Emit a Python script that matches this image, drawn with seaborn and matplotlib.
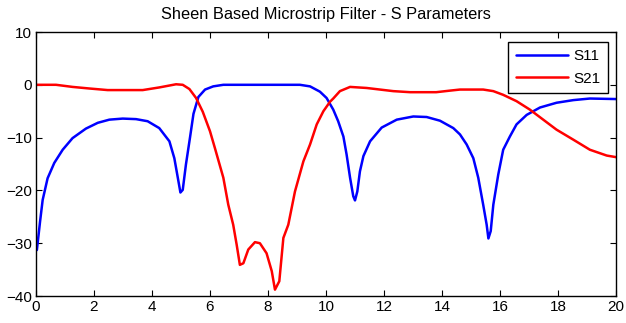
import numpy as np
import pandas as pd
import matplotlib
matplotlib.use("Agg")
import matplotlib.pyplot as plt
import seaborn as sns

title = "Sheen Based Microstrip Filter - S Parameters"
series_names = ["S11", "S21"]

x_s11 = [0.03, 0.14, 0.23, 0.40, 0.63, 0.92, 1.26, 1.72, 2.13, 2.53, 2.99, 3.45,
         3.85, 4.25, 4.6, 4.77, 4.89, 4.98, 5.06, 5.17, 5.31, 5.43, 5.6, 5.83,
         6.11, 6.46, 9.1, 9.45, 9.79, 10.02, 10.25, 10.42, 10.6, 10.71, 10.83,
         10.94, 11.0, 11.08, 11.17, 11.29, 11.52, 11.92, 12.44, 13.01, 13.47,
         13.93, 14.39, 14.62, 14.85, 15.08, 15.25, 15.42, 15.54, 15.6, 15.68,
         15.77, 15.94, 16.11, 16.34, 16.57, 16.92, 17.38, 17.95, 18.53, 19.1, 20.0]
y_s11 = [-31.3, -25.9, -21.8, -17.7, -14.8, -12.3, -10.1, -8.3, -7.2, -6.6, -6.4,
         -6.5, -6.9, -8.2, -10.7, -13.9, -17.6, -20.4, -19.9, -15.1, -10.0, -5.5,
         -2.3, -0.9, -0.3, 0.0, 0.0, -0.3, -1.3, -2.5, -4.7, -6.9, -9.8, -13.2,
         -17.6, -21.1, -21.9, -20.2, -16.4, -13.5, -10.7, -8.1, -6.6, -6.0, -6.1,
         -6.8, -8.2, -9.4, -11.3, -13.9, -17.6, -22.7, -26.5, -29.1, -27.7,
         -22.7, -17.0, -12.3, -9.8, -7.5, -5.7, -4.3, -3.4, -2.9, -2.6, -2.7]

x_s21 = [0.0, 0.69, 1.26, 1.84, 2.47, 3.68, 4.25, 4.83, 5.06, 5.29, 5.52, 5.75,
         6.0, 6.17, 6.46, 6.63, 6.8, 6.92, 7.03, 7.15, 7.32, 7.55, 7.72, 7.95,
         8.13, 8.24, 8.39, 8.53, 8.70, 8.93, 9.22, 9.45, 9.68, 9.91, 10.14,
         10.25, 10.48, 10.83, 11.4, 11.86, 12.32, 12.9, 13.8, 14.28, 14.62,
         15.42, 15.77, 16.11, 16.57, 17.03, 17.49, 17.95, 18.53, 19.1, 19.68, 20.0]
y_s21 = [0.0, 0.0, -0.4, -0.7, -1.0, -1.0, -0.5, 0.1, 0.0, -0.8, -2.5, -5.1,
         -8.8, -12.0, -17.6, -22.7, -26.5, -30.3, -34.1, -33.8, -31.2, -29.8,
         -30.0, -31.9, -35.3, -38.8, -37.2, -29.0, -26.5, -20.2, -14.5, -11.3,
         -7.5, -5.0, -3.2, -2.6, -1.2, -0.4, -0.6, -0.9, -1.2, -1.4, -1.4, -1.1,
         -0.9, -0.9, -1.2, -1.9, -3.1, -4.7, -6.6, -8.5, -10.4, -12.3, -13.4, -13.7]

x_ticks = [0, 2, 4, 6, 8, 10, 12, 14, 16, 18, 20]
y_ticks = [-40, -30, -20, -10, 0, 10]

df = pd.concat([
    pd.DataFrame({"x": x_s11, "y": y_s11, "series": series_names[0]}),
    pd.DataFrame({"x": x_s21, "y": y_s21, "series": series_names[1]}),
], ignore_index=True)

sns.set_style("ticks")
plt.rcParams['font.family'] = ['Liberation Sans', 'DejaVu Sans']
plt.rcParams['font.size'] = 11
plt.rcParams['text.color'] = 'black'
plt.rcParams['axes.labelcolor'] = 'black'

fig = plt.figure(figsize=(6.26, 3.23), dpi=100)
ax = fig.add_axes([36/626, 1 - 296/323, 580/626, 264/323])

sns.lineplot(data=df, x="x", y="y", hue="series", sort=False,
             palette={"S11": "#0000ff", "S21": "#ff0000"},
             linewidth=1.8, ax=ax, legend=True)

ax.set_xlim(0, 20)
ax.set_ylim(-40, 10)
ax.set_xticks(x_ticks)
ax.set_yticks(y_ticks)
ax.set_xlabel("")
ax.set_ylabel("")
ax.set_title(title, fontsize=11.8, pad=9, color="black")
for s in ax.spines.values():
    s.set_visible(True)
    s.set_color("black")
    s.set_linewidth(1.0)
ax.tick_params(direction="in", length=4, width=0.8, top=True, right=True,
               labelsize=11, pad=3, colors="black")

leg = ax.legend(loc="upper right", bbox_to_anchor=(0.987, 0.963),
                borderaxespad=0, fontsize=11, handlelength=3.4,
                labelspacing=0.55, fancybox=False, framealpha=1,
                edgecolor="black", borderpad=0.5, handletextpad=0.4)
leg.get_frame().set_linewidth(1.0)
for line in leg.get_lines():
    line.set_linewidth(1.8)
for t in leg.get_texts():
    t.set_color("black")

fig.savefig("out.png", dpi=100)
